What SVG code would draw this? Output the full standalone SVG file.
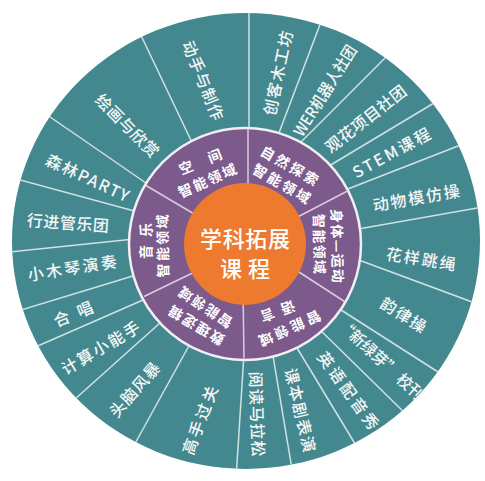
<svg xmlns="http://www.w3.org/2000/svg" width="485" height="481" viewBox="0 0 485 481">
<style>
.t{font-family:"Noto Sans CJK SC","Noto Sans",sans-serif;fill:#f4f6f6;text-anchor:middle;dominant-baseline:central}
.o{font-size:16px;font-weight:500}
.p{font-size:14px;font-weight:700;fill:#ffffff}
.c{font-size:22px;font-weight:500;fill:#ffffff}
.dv{stroke:#cfe2e4;stroke-width:1.5;fill:none}
.pd{stroke:#dccbdf;stroke-width:1.5;fill:none}
</style>
<defs>
<clipPath id="outerClip"><ellipse cx="246" cy="241" rx="234" ry="228"/></clipPath>
</defs>
<rect width="485" height="481" fill="#ffffff"/>
<ellipse id="outer-ring" cx="246" cy="241" rx="234" ry="228" fill="#44888f"/>
<g id="connectors">
<g id="outer-dividers" class="dv" clip-path="url(#outerClip)">
<line x1="249" y1="160" x2="249" y2="0"/>
<line x1="274" y1="146" x2="324" y2="14"/>
<line x1="293" y1="150" x2="393" y2="50"/>
<line x1="319" y1="172" x2="444" y2="97"/>
<line x1="335" y1="194" x2="476" y2="139"/>
<line x1="347" y1="231" x2="489" y2="206"/>
<line x1="348" y1="256" x2="483" y2="306"/>
<line x1="327" y1="301" x2="449" y2="379"/>
<line x1="313" y1="323" x2="413" y2="421"/>
<line x1="291" y1="338" x2="363" y2="457"/>
<line x1="271" y1="344" x2="294" y2="481"/>
<line x1="245" y1="338" x2="236" y2="479"/>
<line x1="196" y1="333" x2="127" y2="458"/>
<line x1="170" y1="314" x2="65" y2="408"/>
<line x1="159" y1="293" x2="24" y2="352"/>
<line x1="146" y1="272" x2="11" y2="313"/>
<line x1="144" y1="238" x2="0" y2="253"/>
<line x1="149" y1="215" x2="9" y2="177"/>
<line x1="159" y1="192" x2="40" y2="110"/>
<line x1="197" y1="153" x2="137" y2="27"/>
</g>
</g>
<circle id="middle-ring" cx="245" cy="244" r="116" fill="#7c5b8c" stroke="#f3eef4" stroke-width="2.5"/>
<g id="middle-dividers" class="pd">
<line x1="248" y1="200" x2="248" y2="129.5"/>
<line x1="206" y1="221" x2="146" y2="185.5"/>
<line x1="207" y1="266" x2="144" y2="296.5"/>
<line x1="243" y1="290" x2="244" y2="358.5"/>
<line x1="285" y1="263" x2="344.5" y2="301.5"/>
<line x1="288" y1="222" x2="347.5" y2="191"/>
</g>
<g id="center">
<circle cx="245" cy="244" r="61" fill="#ee7a2f"/>
<text class="t c" x="245" y="237" textLength="90">学科拓展</text>
<text class="t c" x="245" y="267" textLength="50">课 程</text>
</g>
<g id="domain-space"><text class="t p" transform="translate(200,161) rotate(-22)" textLength="45">空 间</text><text class="t p" transform="translate(207,180) rotate(-24)" textLength="62">智能领域</text></g>
<g id="domain-nature"><text class="t p" transform="translate(290,165) rotate(30)" textLength="64">自然探索</text><text class="t p" transform="translate(282,183) rotate(30)" textLength="64">智能领域</text></g>
<g id="domain-body"><text class="t p" transform="translate(338,246) rotate(89)" textLength="74">身体—运动</text><text class="t p" transform="translate(320,244) rotate(89)" textLength="60">智能领域</text></g>
<g id="domain-language"><text class="t p" transform="translate(290,329) rotate(156)" textLength="66">智能领域</text><text class="t p" transform="translate(278,312) rotate(160)" textLength="36">语 言</text></g>
<g id="domain-logic"><text class="t p" transform="translate(196,326) rotate(211)" textLength="62">数理逻辑</text><text class="t p" transform="translate(205,308) rotate(214)" textLength="61">智能领域</text></g>
<g id="domain-music"><text class="t p" transform="translate(145,241) rotate(-90)" textLength="36">音 乐</text><text class="t p" transform="translate(162,246) rotate(-91)" textLength="63">智能领域</text></g>
<g id="c01"><text class="t o" transform="translate(277,73) rotate(-78)" textLength="86">创客木工坊</text></g>
<g id="c02"><text class="t o" transform="translate(324,90) rotate(-58)" textLength="104" lengthAdjust="spacingAndGlyphs">WER机器人社团</text></g>
<g id="c03"><text class="t o" transform="translate(365,118) rotate(-38)" textLength="98">观花项目社团</text></g>
<g id="c04"><text class="t o" transform="translate(391,152) rotate(-28.5)" textLength="86">STEM课程</text></g>
<g id="c05"><text class="t o" transform="translate(416,197) rotate(-10)" textLength="88">动物模仿操</text></g>
<g id="c06"><text class="t o" transform="translate(421,258) rotate(9)" textLength="70">花样跳绳</text></g>
<g id="c07"><text class="t o" transform="translate(404,314) rotate(32)" textLength="51">韵律操</text></g>
<g id="c08"><text class="t o" transform="translate(382,359) rotate(42.6)" textLength="110" lengthAdjust="spacingAndGlyphs">“新绿芽” 校刊</text></g>
<g id="c09"><text class="t o" transform="translate(349,390) rotate(54)" textLength="92">英语配音秀</text></g>
<g id="c10"><text class="t o" transform="translate(301,410) rotate(76.5)" textLength="86">课本剧表演</text></g>
<g id="c11"><text class="t o" transform="translate(258,414) rotate(88)" textLength="85">阅读马拉松</text></g>
<g id="c12"><text class="t o" transform="translate(199,420) rotate(-69)" textLength="72">高手过关</text></g>
<g id="c13"><text class="t o" transform="translate(134,389) rotate(-48.6)" textLength="67">头脑风暴</text></g>
<g id="c14"><text class="t o" transform="translate(100,347) rotate(-30.6)" textLength="88">计算小能手</text></g>
<g id="c15"><text class="t o" transform="translate(73,313) rotate(-22)" textLength="41">合 唱</text></g>
<g id="c16"><text class="t o" transform="translate(72,267) rotate(-9)" textLength="90">小木琴演奏</text></g>
<g id="c17"><text class="t o" transform="translate(68,222) rotate(4)" textLength="82">行进管乐团</text></g>
<g id="c18"><text class="t o" transform="translate(88,177) rotate(25)" textLength="90">森林PARTY</text></g>
<g id="c19"><text class="t o" transform="translate(128,125) rotate(45)" textLength="82">绘画与欣赏</text></g>
<g id="c20"><text class="t o" transform="translate(204,80) rotate(68)" textLength="84">动手与制作</text></g>
</svg>
